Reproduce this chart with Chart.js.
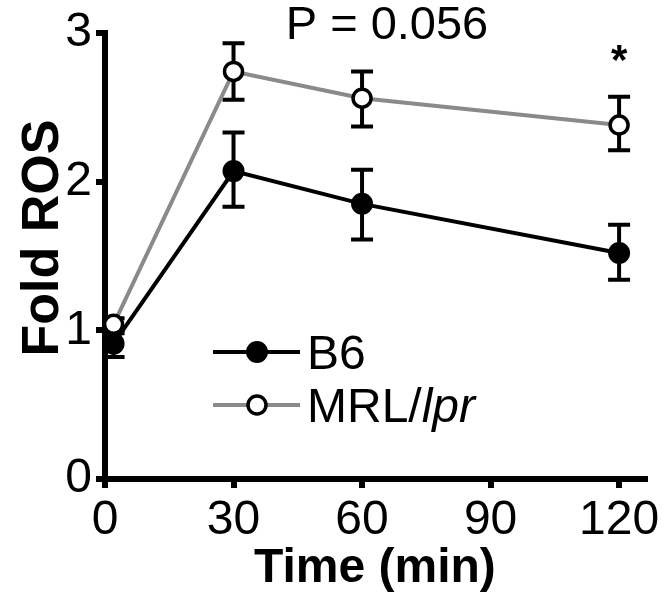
<!DOCTYPE html>
<html>
<head>
<meta charset="utf-8">
<script src="https://cdn.jsdelivr.net/npm/chart.js@4"></script>
<style>
  html, body { margin: 0; padding: 0; background: #fff; }
  #wrap { width: 664px; height: 602px; }
</style>
</head>
<body>
<div id="wrap"><canvas id="rosChart" width="664" height="602"></canvas></div>
<script>
// ===============================
// DONNEES
// ===============================
const timePoints = [2, 30, 60, 120];
const xTicks = [0, 30, 60, 90, 120];
const yTicks = [0, 1, 2, 3];

const b6Mean = [0.91, 2.07, 1.85, 1.52];
const b6Low  = [0.82, 1.83, 1.61, 1.34];
const b6High = [0.98, 2.33, 2.08, 1.71];

const mrlMean = [1.04, 2.74, 2.56, 2.38];
const mrlLow  = [1.00, 2.55, 2.37, 2.21];
const mrlHigh = [1.08, 2.93, 2.74, 2.57];

const FONT = '"Liberation Sans", Arial, Helvetica, sans-serif';

// ===============================
// PLUGINS
// ===============================
const errorBars = {
  id: 'errorBars',
  beforeDatasetsDraw(chart) {
    const { ctx, scales: { x, y } } = chart;
    const sets = [[b6Low, b6High], [mrlLow, mrlHigh]];
    ctx.save();
    ctx.strokeStyle = '#000';
    ctx.lineWidth = 4;
    sets.forEach(([lo, hi]) => {
      timePoints.forEach((t, i) => {
        const px = x.getPixelForValue(t);
        const y1 = y.getPixelForValue(lo[i]);
        const y2 = y.getPixelForValue(hi[i]);
        ctx.beginPath();
        ctx.moveTo(px, y1); ctx.lineTo(px, y2);
        ctx.moveTo(px - 11, y1); ctx.lineTo(px + 11, y1);
        ctx.moveTo(px - 11, y2); ctx.lineTo(px + 11, y2);
        ctx.stroke();
      });
    });
    ctx.restore();
  }
};

const annotations = {
  id: 'annotations',
  afterDraw(chart) {
    const { ctx, scales: { x } } = chart;
    ctx.save();
    ctx.fillStyle = '#000';
    ctx.textBaseline = 'alphabetic';

    // titre axe y
    ctx.save();
    ctx.translate(58, 238);
    ctx.rotate(-Math.PI / 2);
    ctx.textAlign = 'center';
    ctx.font = 'bold 52px ' + FONT;
    ctx.fillText('Fold ROS', 0, 0);
    ctx.restore();

    // P value
    ctx.font = '47px ' + FONT;
    ctx.textAlign = 'center';
    ctx.fillText('P = 0.056', 387, 39);

    // asterisk
    ctx.font = 'bold 42px ' + FONT;
    ctx.fillText('*', x.getPixelForValue(120), 74);

    // legende
    const rows = [
      { y: 352, line: '#000', fill: '#000', r: 11, label: 'B6' },
      { y: 405, line: '#8a8a8a', fill: '#fff', r: 9, label: 'MRL/' }
    ];
    rows.forEach((row, i) => {
      ctx.strokeStyle = row.line;
      ctx.lineWidth = 4;
      ctx.beginPath();
      ctx.moveTo(213, row.y); ctx.lineTo(300, row.y);
      ctx.stroke();
      ctx.beginPath();
      ctx.arc(257, row.y, row.r, 0, Math.PI * 2);
      ctx.fillStyle = row.fill;
      ctx.fill();
      if (i === 1) {
        ctx.strokeStyle = '#000';
        ctx.lineWidth = 3.5;
        ctx.stroke();
      }
      ctx.fillStyle = '#000';
      ctx.textAlign = 'left';
      ctx.font = '48px ' + FONT;
      ctx.fillText(row.label, 307, row.y + 17);
      if (i === 1) {
        const w = ctx.measureText(row.label).width;
        ctx.font = 'italic 48px ' + FONT;
        ctx.fillText('lpr', 307 + w, row.y + 17);
      }
    });
    ctx.restore();
  }
};

// ===============================
// GRAPHIQUE
// ===============================
const axisGrid = {
  display: true,
  drawOnChartArea: false,
  drawTicks: true,
  tickLength: 9,
  lineWidth: 6,
  color: '#000'
};

new Chart(document.getElementById('rosChart'), {
  type: 'line',
  data: {
    datasets: [
      {
        label: 'MRL/lpr',
        data: timePoints.map((t, i) => ({ x: t, y: mrlMean[i] })),
        borderColor: '#8a8a8a',
        borderWidth: 4,
        pointRadius: 9,
        pointBorderWidth: 3.5,
        pointBorderColor: '#000',
        pointBackgroundColor: '#fff',
        clip: false,
        order: 0
      },
      {
        label: 'B6',
        data: timePoints.map((t, i) => ({ x: t, y: b6Mean[i] })),
        borderColor: '#000',
        borderWidth: 4,
        pointRadius: 11,
        pointBorderWidth: 0,
        pointBackgroundColor: '#000',
        clip: false,
        order: 1
      }
    ]
  },
  options: {
    responsive: false,
    animation: false,
    layout: { padding: { top: 28, right: 18, left: 0, bottom: 0 } },
    plugins: {
      legend: { display: false },
      tooltip: { enabled: false }
    },
    scales: {
      x: {
        type: 'linear',
        min: 0,
        max: 126,
        afterBuildTicks: axis => { axis.ticks = xTicks.map(v => ({ value: v })); },
        afterFit: s => { s.height = 123; },
        grid: axisGrid,
        border: { display: true, width: 6, color: '#000' },
        ticks: { color: '#000', font: { family: FONT, size: 48 }, padding: 4, maxRotation: 0 },
        title: {
          display: true,
          text: 'Time (min)',
          color: '#000',
          font: { family: FONT, size: 48, weight: 'bold' },
          padding: { top: 0 }
        }
      },
      y: {
        min: 0,
        max: 3,
        afterBuildTicks: axis => { axis.ticks = yTicks.map(v => ({ value: v })); },
        afterFit: s => { s.width = 105; },
        grid: axisGrid,
        border: { display: true, width: 6, color: '#000' },
        ticks: { color: '#000', font: { family: FONT, size: 48 }, padding: 4 }
      }
    }
  },
  plugins: [errorBars, annotations]
});
</script>
</body>
</html>
